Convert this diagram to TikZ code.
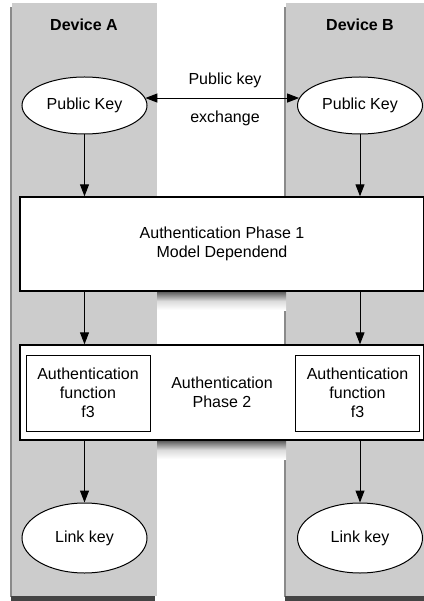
\documentclass[tikz,border=0pt]{standalone}
\usepackage{fontspec}
\setmainfont{Liberation Sans}
\usetikzlibrary{shapes.geometric,arrows.meta,calc}
\definecolor{lanegray}{HTML}{CCCCCC}
\definecolor{laneedge}{HTML}{8A8A8A}
\definecolor{lanefoot}{HTML}{444444}
\tikzset{
  lane/.style={fill=lanegray, draw=none},
  laneside/.style={fill=laneedge, draw=none},
  lanebottom/.style={fill=lanefoot, draw=none},
  keynode/.style={ellipse, draw=black, line width=1pt, fill=white,
    minimum width=125pt, inner sep=0pt, font=\fontsize{16}{19}\selectfont},
  phasebox/.style={rectangle, draw=black, line width=1.3pt, fill=white,
    minimum width=404pt, inner sep=0pt, align=center,
    font=\fontsize{16}{19}\selectfont},
  funcbox/.style={rectangle, draw=black, line width=1pt, fill=white,
    minimum width=124pt, minimum height=76pt, inner sep=0pt, align=center,
    font=\fontsize{16}{19}\selectfont},
  lanetitle/.style={font=\fontsize{16}{19}\selectfont\bfseries},
  plain/.style={font=\fontsize{16}{19}\selectfont, inner sep=0pt},
  flow/.style={line width=1pt, -{Triangle[length=12pt,width=9pt]}},
  boxshade/.style={draw=none}
}
\begin{document}
\begin{tikzpicture}[x=1pt,y=-1pt]
  \useasboundingbox (0,0) rectangle (423,601);

  % device lanes with their shadow edges
  \fill[laneside] (10,7) rectangle (12,597);
  \fill[lanebottom] (11,596) rectangle (155,601);
  \fill[lane] (12,3) rectangle (157,596);
  \fill[laneside] (284,7) rectangle (286,597);
  \fill[lanebottom] (285,596) rectangle (430,601);
  \fill[lane] (286,3) rectangle (430,596);

  \node[lanetitle] (devA) at (84,25) {Device A};
  \node[lanetitle] (devB) at (360,25) {Device B};

  % soft shadows cast by the phase boxes into the gap between lanes
  \shade[boxshade, top color=black!62, bottom color=white, middle color=black!14]
    (157,292) rectangle (286,310);
  \shade[boxshade, top color=black!62, bottom color=white, middle color=black!14]
    (157,441) rectangle (286,459);

  % public keys and their exchange
  \node[keynode, minimum height=57pt] (pka) at (84.5,105.5) {Public Key};
  \node[keynode, minimum height=57pt] (pkb) at (360,105.5) {Public Key};
  \draw[line width=1pt, {Triangle[length=12pt,width=9pt]}-{Triangle[length=12pt,width=9pt]}]
    (pka.7) -- (pkb.173);
  \node[plain] (exA) at (225,80) {Public key};
  \node[plain] (exB) at (225,118) {exchange};

  % phase 1
  \node[phasebox, minimum height=94pt] (p1) at (222,244)
    {Authentication Phase 1\\Model Dependend};

  % phase 2 with the f3 functions
  \node[phasebox, minimum height=95pt] (p2) at (222,392.5)
    {Authentication\\Phase 2};
  \node[funcbox] (fa) at (88,393) {Authentication\\function\\f3};
  \node[funcbox] (fb) at (357.5,393) {Authentication\\function\\f3};

  % link keys
  \node[keynode, minimum height=70pt] (lka) at (84.5,538) {Link key};
  \node[keynode, minimum height=70pt] (lkb) at (360,538) {Link key};

  % flow between the stages
  \draw[flow] (pka.south) -- (pka.south |- p1.north);
  \draw[flow] (pkb.south) -- (pkb.south |- p1.north);
  \draw[flow] (pka.south |- p1.south) -- (pka.south |- p2.north);
  \draw[flow] (pkb.south |- p1.south) -- (pkb.south |- p2.north);
  \draw[flow] (lka.north |- p2.south) -- (lka.north);
  \draw[flow] (lkb.north |- p2.south) -- (lkb.north);
\end{tikzpicture}
\end{document}
